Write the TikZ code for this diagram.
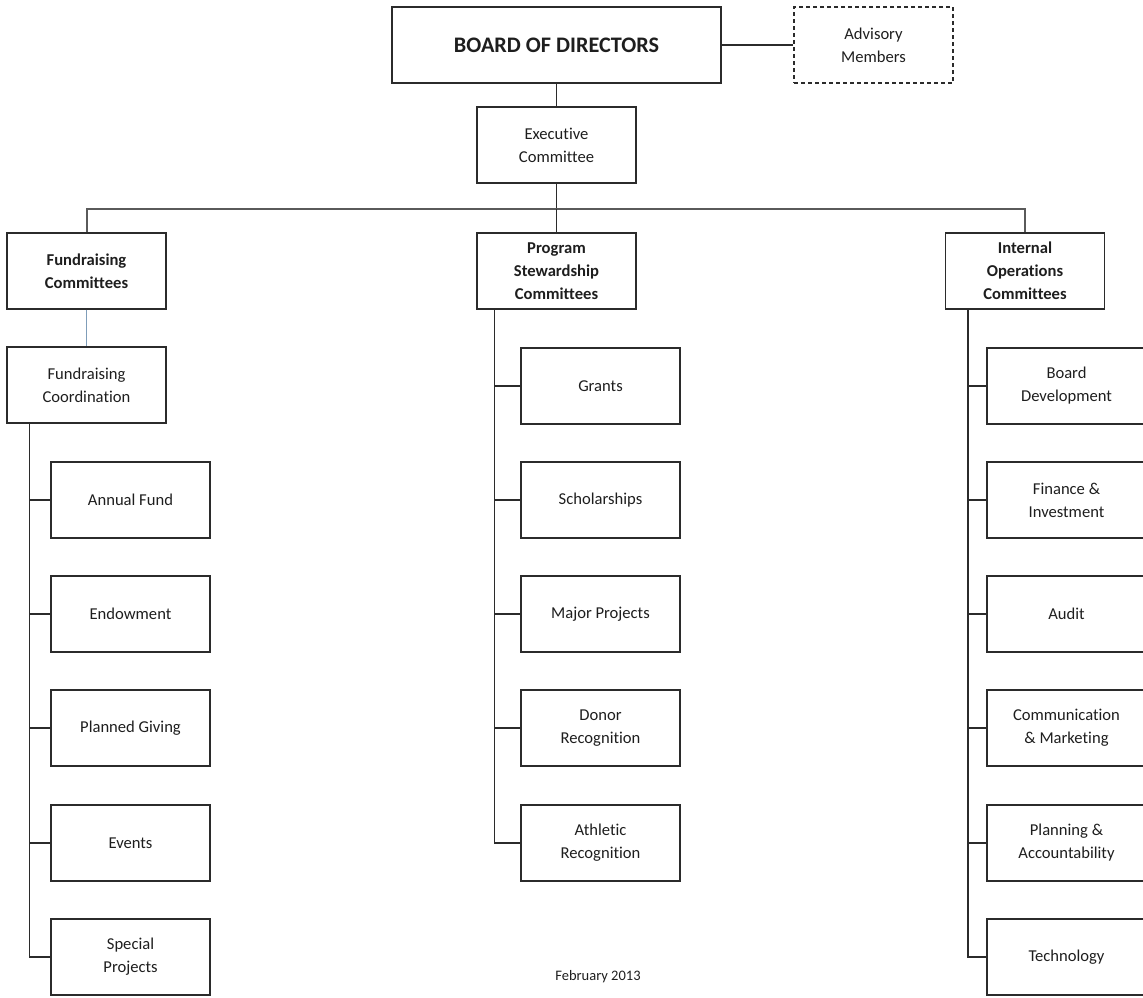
\documentclass[tikz,border=0pt]{standalone}
\usepackage{fontspec}
\setmainfont[Ligatures={NoCommon}]{Carlito}
\definecolor{linegray}{HTML}{2B2B2B}
\definecolor{bargray}{HTML}{5A5A5A}
\definecolor{bluish}{HTML}{7F9DB9}
\definecolor{txt}{HTML}{1E1E1E}
\usetikzlibrary{positioning}
\tikzset{
  box/.style={draw=linegray, line width=1.4pt, minimum width=159pt, minimum height=76pt,
    inner sep=0pt, align=center, text=txt, font=\fontsize{16.6}{23}\selectfont},
  hbox/.style={box, font=\fontsize{16.6}{23}\selectfont\bfseries},
  dbox/.style={box, dash pattern=on 4pt off 3pt},
  conn/.style={draw=linegray, line width=1.4pt},
  bar/.style={draw=bargray, line width=2pt}
}
\begin{document}
\begin{tikzpicture}[x=1pt,y=-1pt]
\useasboundingbox (0,0) rectangle (1143,997);
% top
\node[box, minimum width=329pt, font=\fontsize{22.2}{26}\selectfont\bfseries] (board) at (556.5,45) {BOARD OF DIRECTORS};
\node[dbox] (adv) at (873.5,45) {Advisory\\Members};
\node[box] (exec) at (556.5,145) {Executive\\Committee};
% committees
\node[hbox] (fc) at (86.5,271) {Fundraising\\Committees};
\node[hbox] (ps) at (556.5,271) {Program\\Stewardship\\Committees};
\node[hbox] (io) at (1025,271) {Internal\\Operations\\Committees};
% fundraising
\node[box] (coord) at (86.5,385) {Fundraising\\Coordination};
\node[box] (af) at (130.5,500) {Annual Fund};
\node[box] (en) at (130.5,614) {Endowment};
\node[box] (pg) at (130.5,728) {Planned Giving};
\node[box] (ev) at (130.5,843) {Events};
\node[box] (sp) at (130.5,957) {Special\\Projects};
% program
\node[box] (gr) at (600.5,386) {Grants};
\node[box] (sc) at (600.5,500) {Scholarships};
\node[box] (mp) at (600.5,614) {Major Projects};
\node[box] (dr) at (600.5,728) {Donor\\Recognition};
\node[box] (ar) at (600.5,843) {Athletic\\Recognition};
% internal
\node[box] (bd) at (1066.5,386) {Board\\Development};
\node[box] (fi) at (1066.5,500) {Finance \&\\Investment};
\node[box] (au) at (1066.5,614) {Audit};
\node[box] (cm) at (1066.5,728) {Communication\\\& Marketing};
\node[box] (pa) at (1066.5,843) {Planning \&\\Accountability};
\node[box] (te) at (1066.5,957) {Technology};
\node[text=txt, font=\fontsize{14.5}{17}\selectfont, inner sep=0pt] (feb) at (598,977) {February 2013};
% connectors
\draw[conn] (board.east) -- (adv.west);
\draw[conn] (board.south) -- (exec.north);
\coordinate (hub) at (556.5,209);
\draw[conn] (exec.south) -- (hub);
\draw[bar] (fc.north) |- (hub) -| (io.north);
\draw[conn] (hub) -- (ps.north);
\draw[draw=bluish, line width=0.9pt] (fc.south) -- (coord.north);
% left trunk
\coordinate (lt) at ([xshift=23pt]coord.south west);
\draw[conn] (lt) |- (sp.west);
\foreach \n in {af,en,pg,ev} \draw[conn] (\n.west) -- (\n.west -| lt);
% middle trunk
\coordinate (mt) at ([xshift=18pt]ps.south west);
\draw[conn] (mt) |- (ar.west);
\foreach \n in {gr,sc,mp,dr} \draw[conn] (\n.west) -- (\n.west -| mt);
% right trunk
\coordinate (rt) at ([xshift=23pt]io.south west);
\draw[conn] (rt) |- (te.west);
\foreach \n in {bd,fi,au,cm,pa} \draw[conn] (\n.west) -- (\n.west -| rt);
\end{tikzpicture}
\end{document}
